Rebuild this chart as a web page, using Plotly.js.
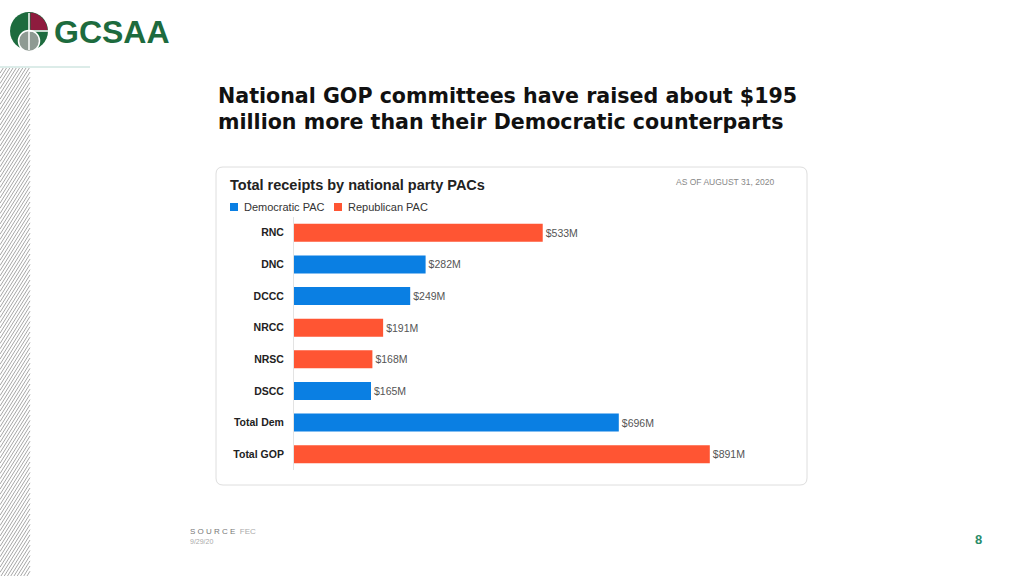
<!DOCTYPE html>
<html>
<head>
<meta charset="utf-8">
<script src="https://cdn.plot.ly/plotly-3.0.1.min.js"></script>
<style>
html,body{margin:0;padding:0;background:#fff;}
#chart{width:1024px;height:576px;}
</style>
</head>
<body>
<div id="chart"></div>
<script>
// ---- data ----
var categories = ["RNC", "DNC", "DCCC", "NRCC", "NRSC", "DSCC", "Total Dem", "Total GOP"];
var receipts = [533, 282, 249, 191, 168, 165, 696, 891];
var party = ["Republican", "Democratic", "Democratic", "Republican", "Republican", "Democratic", "Democratic", "Republican"];
var seriesNames = ["Democratic PAC", "Republican PAC"];
var seriesParty = ["Democratic", "Republican"];
var seriesColors = ["#0a7fe3", "#ff5533"];
var titleLines = ["National GOP committees have raised about $195", "million more than their Democratic counterparts"];

// ---- geometry ----
var W = 1024, H = 576;
var L = 294, R = 770, T = 217, B = 470;
function X(px){ return (px - L) / (R - L); }
function Y(py){ return (B - py) / (B - T); }

var font = "Liberation Sans, Arial, Helvetica, sans-serif";
var titleFont = "DejaVu Sans, Liberation Sans, Arial, sans-serif";

var traces = seriesParty.map(function(p, i){
  var ys = [], xs = [], tx = [];
  categories.forEach(function(c, j){
    if (party[j] === p){ ys.push(c); xs.push(receipts[j]); tx.push("$" + receipts[j] + "M"); }
  });
  return {
    type: "bar", orientation: "h", name: seriesNames[i],
    x: xs, y: ys, text: tx, textposition: "outside",
    textfont: {family: font, size: 10.5, color: "#555"},
    marker: {color: seriesColors[i]},
    width: 0.57, cliponaxis: false, showlegend: false, hoverinfo: "x+y"
  };
});

var shapes = [];
// card
function roundRect(x0, y0, x1, y1, r){
  return "M" + X(x0+r) + "," + Y(y0) + " L" + X(x1-r) + "," + Y(y0) +
    " Q" + X(x1) + "," + Y(y0) + " " + X(x1) + "," + Y(y0+r) +
    " L" + X(x1) + "," + Y(y1-r) +
    " Q" + X(x1) + "," + Y(y1) + " " + X(x1-r) + "," + Y(y1) +
    " L" + X(x0+r) + "," + Y(y1) +
    " Q" + X(x0) + "," + Y(y1) + " " + X(x0) + "," + Y(y1-r) +
    " L" + X(x0) + "," + Y(y0+r) +
    " Q" + X(x0) + "," + Y(y0) + " " + X(x0+r) + "," + Y(y0) + " Z";
}
shapes.push({type: "path", xref: "paper", yref: "paper", path: roundRect(216, 167, 807, 485, 7),
  line: {color: "#dedede", width: 1}, fillcolor: "rgba(0,0,0,0)", layer: "below"});

// hatched strip on the left
var hp = "";
var slope = 1.6, step = 5.2, x0h = 0, x1h = 30, ytop = 68, ybot = 576;
for (var yy = ytop; yy <= ybot + (x1h - x0h) * slope; yy += step){
  var ax = x0h, ay = yy, bx = x1h, by = yy - (x1h - x0h) * slope;
  if (ay > ybot){ ax = x0h + (ay - ybot) / slope; ay = ybot; }
  if (by < ytop){ bx = x1h - (ytop - by) / slope; by = ytop; }
  if (ax >= bx) continue;
  hp += "M" + X(ax) + "," + Y(ay) + " L" + X(bx) + "," + Y(by) + " ";
}
shapes.push({type: "path", xref: "paper", yref: "paper", path: hp, line: {color: "#a6a6a6", width: 1}});
// thin rule under logo
shapes.push({type: "line", xref: "paper", yref: "paper", x0: X(0), x1: X(90), y0: Y(67), y1: Y(67),
  line: {color: "#b9d9d2", width: 1}});

// logo mark
var cx = 29, cy = 31, r = 19;
shapes.push({type: "circle", xref: "paper", yref: "paper", x0: X(cx - r), x1: X(cx + r), y0: Y(cy - r), y1: Y(cy + r),
  fillcolor: "#1d6b3e", line: {width: 0}});
var qp = "M" + X(cx + 1.5) + "," + Y(cy - 1) + " L" + X(cx + 1.5) + "," + Y(cy - r + 0.5);
for (var a = -88; a <= -2; a += 6){
  var rad = a * Math.PI / 180;
  qp += " L" + X(cx + (r - 0.5) * Math.cos(rad)) + "," + Y(cy + (r - 0.5) * Math.sin(rad));
}
qp += " L" + X(cx + r - 0.5) + "," + Y(cy - 1) + " Z";
shapes.push({type: "path", xref: "paper", yref: "paper", path: qp, fillcolor: "#8e1c3e", line: {width: 0}});
var gr = 10.5, gcx = 29, gcy = 41;
shapes.push({type: "circle", xref: "paper", yref: "paper", x0: X(gcx - gr), x1: X(gcx + gr), y0: Y(gcy - gr), y1: Y(gcy + gr),
  fillcolor: "#8f9a93", line: {color: "#ffffff", width: 1.5}});
shapes.push({type: "line", xref: "paper", yref: "paper", x0: X(cx), x1: X(cx), y0: Y(13), y1: Y(50),
  line: {color: "#ffffff", width: 1.5}});
shapes.push({type: "line", xref: "paper", yref: "paper", x0: X(cx), x1: X(cx + r), y0: Y(cy), y1: Y(cy),
  line: {color: "#ffffff", width: 1.5}});

// custom legend squares
shapes.push({type: "rect", xref: "paper", yref: "paper", x0: X(230), x1: X(238), y0: Y(203), y1: Y(211),
  fillcolor: seriesColors[0], line: {width: 0}});
shapes.push({type: "rect", xref: "paper", yref: "paper", x0: X(334), x1: X(342), y0: Y(203), y1: Y(211),
  fillcolor: seriesColors[1], line: {width: 0}});

var annotations = [
  {text: "GCSAA", x: X(52), y: Y(32), xanchor: "left", yanchor: "middle",
   font: {family: font, size: 32, color: "#1d6b3e", weight: "bold"}},
  {text: "<b>" + titleLines[0] + "</b>", x: X(216), y: Y(96), xanchor: "left", yanchor: "middle",
   font: {family: titleFont, size: 20.6, color: "#111"}},
  {text: "<b>" + titleLines[1] + "</b>", x: X(216), y: Y(122), xanchor: "left", yanchor: "middle",
   font: {family: titleFont, size: 20.6, color: "#111"}},
  {text: "<b>Total receipts by national party PACs</b>", x: X(228), y: Y(185), xanchor: "left", yanchor: "middle",
   font: {family: font, size: 14.5, color: "#222"}},
  {text: "AS OF AUGUST 31, 2020", x: X(674), y: Y(182), xanchor: "left", yanchor: "middle",
   font: {family: font, size: 8.5, color: "#888"}},
  {text: seriesNames[0], x: X(242), y: Y(207), xanchor: "left", yanchor: "middle",
   font: {family: font, size: 11, color: "#333"}},
  {text: seriesNames[1], x: X(346), y: Y(207), xanchor: "left", yanchor: "middle",
   font: {family: font, size: 11, color: "#333"}},
  {text: "S O U R C E&nbsp;&nbsp;<span style='color:#aaa'>FEC</span>", x: X(188), y: Y(531), xanchor: "left", yanchor: "middle",
   font: {family: font, size: 8, color: "#777"}},
  {text: "9/29/20", x: X(188), y: Y(541), xanchor: "left", yanchor: "middle",
   font: {family: font, size: 7, color: "#aaa"}},
  {text: "<b>8</b>", x: X(978), y: Y(539), xanchor: "center", yanchor: "middle",
   font: {family: font, size: 13, color: "#2a8c6a"}}
];
annotations.forEach(function(a){ a.xref = "paper"; a.yref = "paper"; a.showarrow = false; });

var layout = {
  width: W, height: H,
  margin: {l: L, r: W - R, t: T, b: H - B, pad: 0},
  paper_bgcolor: "#ffffff", plot_bgcolor: "rgba(0,0,0,0)",
  barmode: "overlay",
  showlegend: false,
  xaxis: {range: [0, 1020], visible: false, fixedrange: true},
  yaxis: {type: "category", categoryorder: "array", categoryarray: categories, autorange: "reversed",
    showline: true, linecolor: "#e3e3e3", linewidth: 1, showgrid: false, zeroline: false,
    ticks: "", ticklabelstandoff: 7,
    tickfont: {family: font, size: 10.5, color: "#222", weight: "bold"}, fixedrange: true},
  font: {family: font},
  shapes: shapes,
  annotations: annotations
};

Plotly.newPlot("chart", traces, layout, {displayModeBar: false, staticPlot: true});
</script>
</body>
</html>
